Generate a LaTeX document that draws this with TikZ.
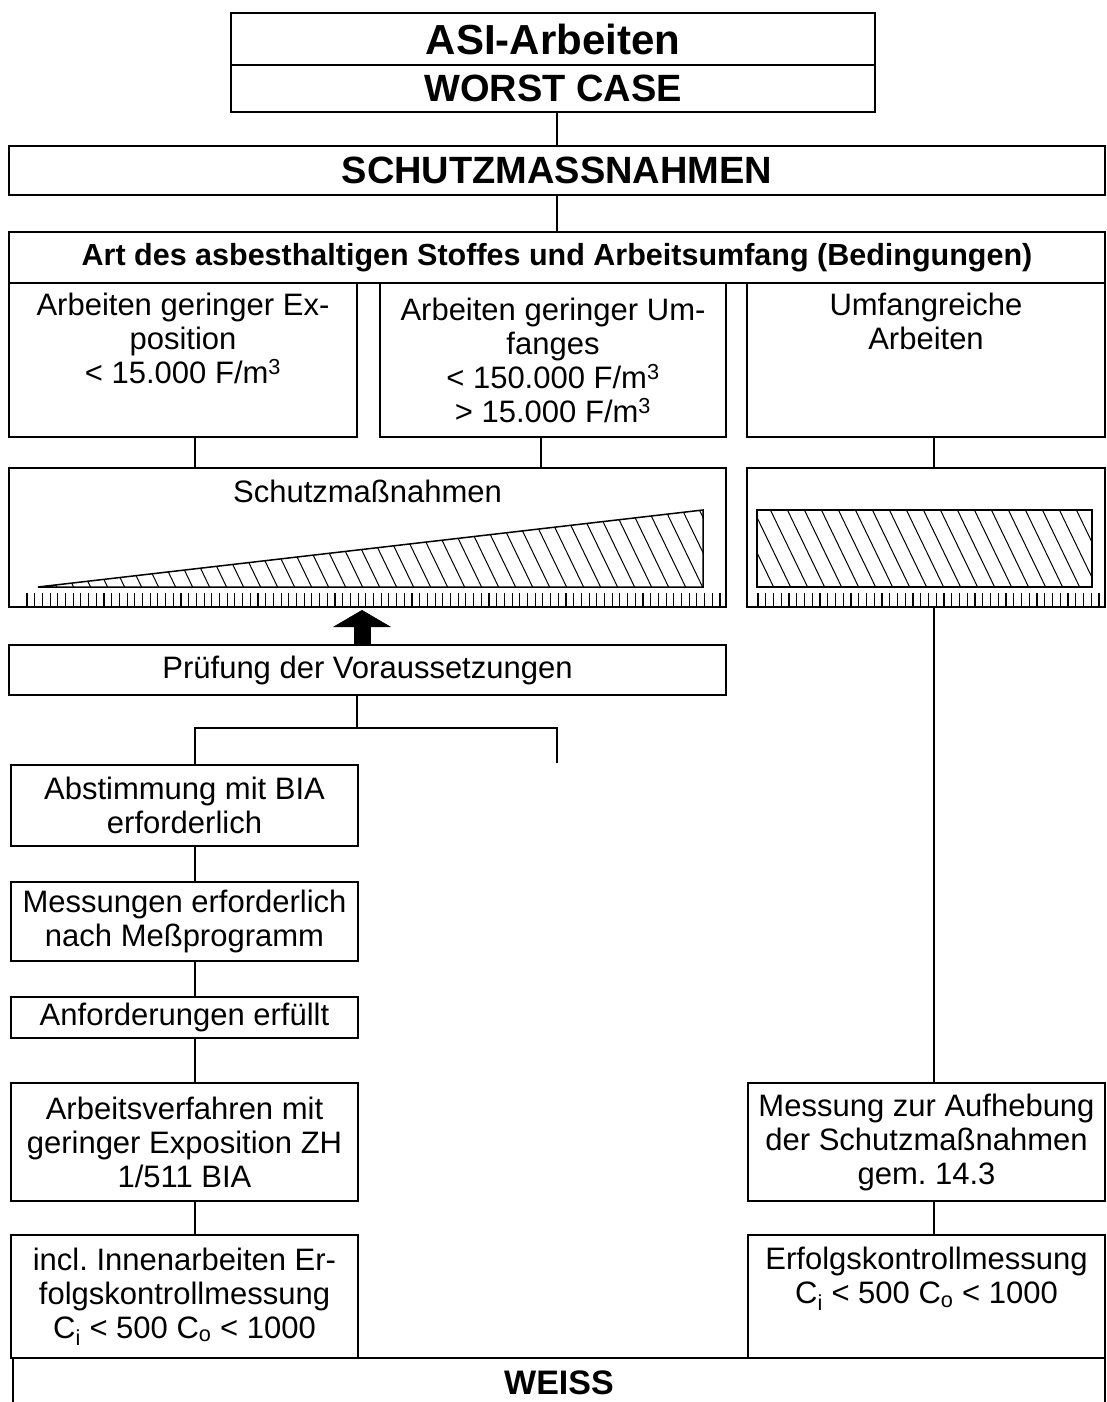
\documentclass[tikz,border=0pt]{standalone}
\usepackage{fontspec}
\setmainfont{Liberation Sans}
\usetikzlibrary{arrows.meta}
\frenchspacing

\begin{document}
\begin{tikzpicture}[x=1pt,y=-1pt,
    box/.style={draw,line width=1.6pt,inner sep=0pt,outer sep=0pt,align=center,
      font=\fontsize{31}{34}\selectfont},
    head/.style={box,font=\fontsize{38}{42}\selectfont\bfseries},
    txt/.style={inner sep=0pt,align=center,font=\fontsize{31}{34}\selectfont},
    link/.style={line width=1.3pt},
    tick/.style={line width=1.1pt}]
  \fill[white] (0,0) rectangle (1107,1402) ;
  \useasboundingbox (0,0) rectangle (1107,1402) ;
  % columns of the connectors
  \coordinate (c1) at (195,0) ;
  \coordinate (c2) at (541,0) ;
  \coordinate (c3) at (934,0) ;
  \coordinate (ak) at (362,0) ;
  \coordinate (fork) at (357,728) ;
  \coordinate (free) at (557,763) ;
  % head
  \node[head,minimum width=644,minimum height=52,font=\fontsize{42}{46}\selectfont\bfseries] %
  (asi) at (553,39) {ASI-Arbeiten} ;
  \node[head,minimum width=644,minimum height=47] (wc) at (553,88.5) {WORST CASE} ;
  \node[head,minimum width=1096,minimum height=49] (sm) at (557,170.5) {SCHUTZMASSNAHMEN} ;
  \node[box,minimum width=1096,minimum height=51,font=\fontsize{30.5}{33}\selectfont\bfseries] %
  (art) at (557,257.5) {Art des asbesthaltigen Stoffes und Arbeitsumfang (Bedingungen)} ;
  % three kinds of work
  \node[box,minimum width=348,minimum height=154] (b1) at (183,360) {} ;
  \node[txt,anchor=north] (t1) at ([yshift=-10pt]b1.north) %
  {Arbeiten geringer Ex-\\position\\< 15.000 F/m\textsuperscript{3}} ;
  \node[box,minimum width=346,minimum height=154] (b2) at (553,360) %
  {Arbeiten geringer Um-\\fanges\\< 150.000 F/m\textsuperscript{3}\\> 15.000 F/m\textsuperscript{3}} ;
  \node[box,minimum width=358,minimum height=154] (b3) at (926,360) {} ;
  \node[txt,anchor=north] (t3) at ([yshift=-10pt]b3.north) {Umfangreiche\\Arbeiten} ;
  % protective measures
  \node[box,minimum width=717,minimum height=139] (s1) at (367.5,537.5) {} ;
  \node[txt,anchor=north] (t4) at ([yshift=-12pt]s1.north) {Schutzmaßnahmen} ;
  \node[box,minimum width=358,minimum height=139] (s2) at (926,537.5) {} ;
  \begin{scope}
    \clip (38,587) -- (703,510) -- (703,587) -- cycle ;
    \foreach \x in {0,17,...,714} \draw[line width=1pt] (\x,505) -- ++(42,87) ;
  \end{scope}
  \draw[line width=1.5pt] (38,587) -- (703,510) -- (703,587) -- cycle ;
  \begin{scope}
    \clip (757,510) rectangle (1092,587) ;
    \foreach \x in {700,717,...,1100} \draw[line width=1pt] (\x,505) -- ++(42,87) ;
  \end{scope}
  \draw[line width=1.5pt] (757,510) rectangle (1092,587) ;
  \foreach \x in {27,34.7,...,722} \draw[tick] (\x,593) -- (\x,607) ;
  \foreach \x in {758,765.75,...,1100} \draw[tick] (\x,593) -- (\x,607) ;
  % checks
  \node[box,minimum width=717,minimum height=50] (pr) at (367.5,670) {Prüfung der Voraussetzungen} ;
  \node[box,minimum width=347,minimum height=81] (ab) at (184.5,805.5) {Abstimmung mit BIA\\erforderlich} ;
  \node[box,minimum width=347,minimum height=79] (me) at (184.5,921.5) {Messungen erforderlich\\nach Meßprogramm} ;
  \node[box,minimum width=347,minimum height=41] (an) at (184.5,1017.5) {Anforderungen erfüllt} ;
  \node[box,minimum width=347,minimum height=118] (av) at (184.5,1142) %
  {Arbeitsverfahren mit\\geringer Exposition ZH\\1/511 BIA} ;
  \node[box,minimum width=347,minimum height=123] (ic) at (184.5,1296.5) %
  {incl. Innenarbeiten Er-\\folgskontrollmessung\\C\textsubscript{i} < 500 C\textsubscript{o} < 1000} ;
  \node[box,minimum width=357,minimum height=118] (mr) at (926.5,1142) %
  {Messung zur Aufhebung\\der Schutzmaßnahmen\\gem. 14.3} ;
  \node[box,minimum width=357,minimum height=123] (ek) at (926.5,1296.5) {} ;
  \node[txt,anchor=north] (t5) at ([yshift=-12pt]ek.north) %
  {Erfolgskontrollmessung\\C\textsubscript{i} < 500 C\textsubscript{o} < 1000} ;
  \node[head,minimum width=1092,minimum height=50,font=\fontsize{34}{38}\selectfont\bfseries] %
  (ws) at (559,1383) {WEISS} ;
  % connectors
  \draw[link] (sm.north) -- (sm.north |- wc.south) ;
  \draw[link] (sm.south) -- (art.north) ;
  \draw[link] (b1.south -| c1) -- (s1.north -| c1) ;
  \draw[link] (b2.south -| c2) -- (s1.north -| c2) ;
  \draw[link] (b3.south -| c3) -- (s2.north -| c3) ;
  \draw[link] (s2.south -| c3) -- (mr.north -| c3) ;
  \draw[link] (mr.south -| c3) -- (ek.north -| c3) ;
  \draw[line width=17pt,-{Triangle[width=58pt,length=17pt,line width=0.5pt]},shorten >=3pt] %
  (pr.north -| ak) -- (s1.south -| ak) ;
  \draw[link] (pr.south -| fork) -- (fork) ;
  \draw[link] (ab.north -| c1) |- (fork) -| (free) ;
  \draw[link] (ab.south -| c1) -- (me.north -| c1) ;
  \draw[link] (me.south -| c1) -- (an.north -| c1) ;
  \draw[link] (an.south -| c1) -- (av.north -| c1) ;
  \draw[link] (av.south -| c1) -- (ic.north -| c1) ;
\end{tikzpicture}
\end{document}
